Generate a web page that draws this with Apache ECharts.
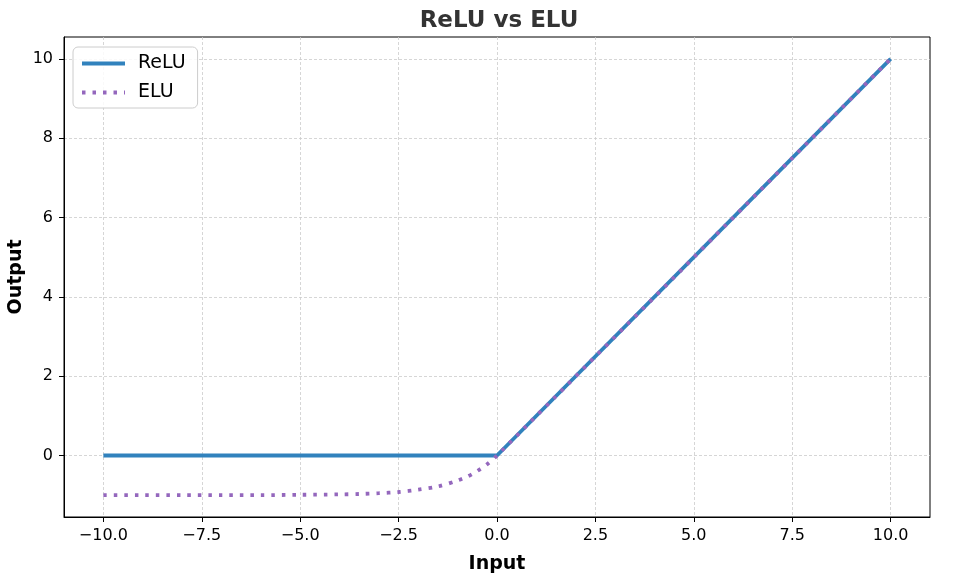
<!DOCTYPE html>
<html>
<head>
<meta charset="utf-8">
<script src="https://cdn.jsdelivr.net/npm/echarts@6/dist/echarts.min.js"></script>
<style>html,body{margin:0;padding:0;background:#fff}#c{width:960px;height:580px}</style>
</head>
<body>
<div id="c"></div>
<script>
var reluX = [-10, 0, 10];
var reluY = [0, 0, 10];
var eluX = [-10, -9, -8, -7, -6, -5, -4, -3.5, -3, -2.5, -2, -1.5, -1, -0.75, -0.5, -0.25, 0, 10];
var eluY = [-1.0, -1.0, -1.0, -1.0, -1.0, -0.99, -0.98, -0.97, -0.95, -0.92, -0.86, -0.78, -0.63, -0.53, -0.39, -0.22, 0, 10];
var xTicks = [-10, -7.5, -5, -2.5, 0, 2.5, 5, 7.5, 10];
var yTicks = [0, 2, 4, 6, 8, 10];

function zip(a, b) { return a.map(function (v, i) { return [v, b[i]]; }); }
function fmtX(v) { var s = Math.abs(v).toFixed(1); return (v < 0 ? '\u2212' : '') + s; }
function fmtY(v) { return (v < 0 ? '\u2212' : '') + Math.abs(v).toFixed(0); }

var font = 'DejaVu Sans';
var chart = echarts.init(document.getElementById('c'));
chart.setOption({
  animation: false,
  textStyle: { fontFamily: font },
  title: {
    text: 'ReLU vs ELU', left: 494, textAlign: 'center', top: 5,
    textStyle: { fontFamily: font, fontSize: 23, fontWeight: 'bold', color: '#333' }
  },
  grid: { left: 64, right: 30, top: 37, bottom: 63, show: true, borderColor: '#000', borderWidth: 1,
    containLabel: false, outerBoundsMode: 'none' },
  legend: {
    orient: 'vertical', left: 73, top: 47,
    backgroundColor: 'rgba(255,255,255,0.85)', borderColor: '#cccccc', borderWidth: 1, borderRadius: 5,
    padding: [7, 12, 6, 7], itemGap: 10, itemWidth: 43, itemHeight: 18,
    textStyle: { fontFamily: font, fontSize: 19, color: '#000', padding: [0, 0, 0, 8] },
    itemStyle: { opacity: 0 },
    lineStyle: { width: 4 },
    data: ['ReLU', 'ELU']
  },
  xAxis: {
    type: 'value', min: -11, max: 11,
    name: 'Input', nameLocation: 'middle', nameGap: 38,
    nameTextStyle: { fontFamily: font, fontSize: 19, fontWeight: 'bold', color: '#000' },
    axisLine: { show: true, onZero: false, lineStyle: { color: '#000', width: 1 } },
    axisTick: { show: true, length: 5, lineStyle: { color: '#000' }, customValues: xTicks },
    axisLabel: { fontFamily: font, fontSize: 16, color: '#000', margin: 11, customValues: xTicks, formatter: fmtX },
    splitLine: { show: true, lineStyle: { color: '#cccccc', type: [3, 2], width: 0.8 } }
  },
  yAxis: {
    type: 'value', min: -1.55, max: 10.55,
    name: 'Output', nameLocation: 'middle', nameGap: 38, nameMoveOverlap: false,
    nameTextStyle: { fontFamily: font, fontSize: 19, fontWeight: 'bold', color: '#000' },
    axisLine: { show: true, onZero: false, lineStyle: { color: '#000', width: 1 } },
    axisTick: { show: true, length: 5, lineStyle: { color: '#000' }, customValues: yTicks },
    axisLabel: { fontFamily: font, fontSize: 16, color: '#000', margin: 11, customValues: yTicks, formatter: fmtY },
    splitLine: { show: true, lineStyle: { color: '#cccccc', type: [3, 2], width: 0.8 } }
  },
  series: [
    {
      name: 'ReLU', type: 'line', symbol: 'none', data: zip(reluX, reluY),
      lineStyle: { color: '#3182bd', width: 3.8 }, itemStyle: { color: '#3182bd' }, z: 2
    },
    {
      name: 'ELU', type: 'line', symbol: 'none', data: zip(eluX, eluY), smooth: 0.3,
      lineStyle: { color: '#9467bd', width: 3.8, type: [3.5, 7], cap: 'butt' }, itemStyle: { color: '#9467bd' }, z: 3
    }
  ]
});
</script>
</body>
</html>
